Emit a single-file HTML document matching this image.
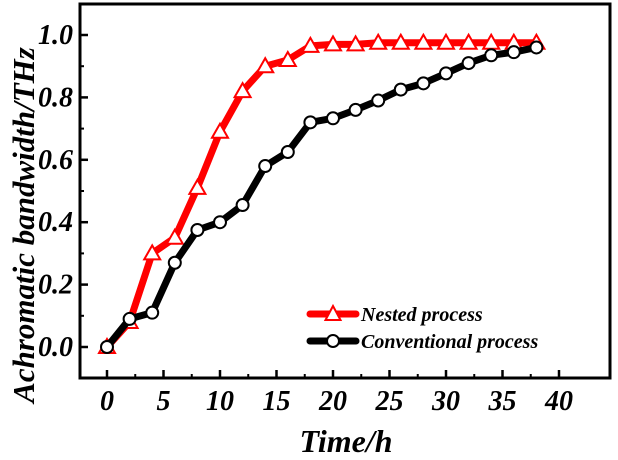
<!DOCTYPE html>
<html><head><meta charset="utf-8"><style>
html,body{margin:0;padding:0;background:#fff;}
svg{display:block;}
text{font-family:"Liberation Serif",serif;font-weight:bold;font-style:italic;fill:#000;}
</style></head><body>
<svg id="chart" width="618" height="460">
<rect x="80" y="4" width="530" height="374" fill="none" stroke="#000" stroke-width="3"/>
<g id="axes"></g>
<g id="series"></g>
<text x="346" y="452" font-size="32" text-anchor="middle">Time/h</text>
<text transform="translate(34,225) rotate(-90)" font-size="31" text-anchor="middle">Achromatic bandwidth/THz</text>
<g>
<g>
<line x1="310" y1="314" x2="356" y2="314" stroke="#f00" stroke-width="7" stroke-linecap="round"/>
<polygon points="333,306 325.5,320 340.5,320" fill="#fff" stroke="#f00" stroke-width="2"/>
<text x="361" y="321" font-size="20">Nested process</text>
</g>
<g>
<line x1="310" y1="341" x2="356" y2="341" stroke="#000" stroke-width="7" stroke-linecap="round"/>
<circle cx="333" cy="341" r="6" fill="#fff" stroke="#000" stroke-width="2"/>
<text x="361" y="348" font-size="20">Conventional process</text>
</g>
</g>
</svg>
<script>
const times = [0,2,4,6,8,10,12,14,16,18,20,22,24,26,28,30,32,34,36,38];
const nested = [0,0.08,0.30,0.35,0.51,0.69,0.82,0.90,0.92,0.965,0.97,0.97,0.975,0.975,0.975,0.975,0.975,0.975,0.975,0.975];
const conventional = [0,0.09,0.11,0.27,0.375,0.40,0.455,0.58,0.625,0.72,0.733,0.76,0.79,0.825,0.845,0.877,0.91,0.935,0.945,0.96];
const xTicks = [0,5,10,15,20,25,30,35,40];
const yTicks = [0.0,0.2,0.4,0.6,0.8,1.0];

const NS='http://www.w3.org/2000/svg';
function xs(v){return 107+v*(559-107)/40;}
function ys(v){return 347-v*312;}
function mk(tag,attrs,parent){const e=document.createElementNS(NS,tag);for(const k in attrs)e.setAttribute(k,attrs[k]);parent.appendChild(e);return e;}
const axes=document.getElementById('axes');
xTicks.forEach((t,i)=>{
  const x=xs(t);
  const tk=mk('line',{x1:x,y1:378,x2:x,y2:370,stroke:'#000','stroke-width':2.5},axes);
  
  
  if(i<xTicks.length-1){const m=mk('line',{x1:xs(t+2.5),y1:378,x2:xs(t+2.5),y2:374,stroke:'#000','stroke-width':2},axes);
    
    }
  const lb=mk('text',{x:x,y:410,'font-size':28,'text-anchor':'middle'},axes);
  lb.textContent=String(t);
  
  
});
yTicks.forEach((t,i)=>{
  const y=ys(t);
  const tk=mk('line',{x1:80,y1:y,x2:88,y2:y,stroke:'#000','stroke-width':2.5},axes);
  
  
  const m=mk('line',{x1:80,y1:ys(t+0.1),x2:84,y2:ys(t+0.1),stroke:'#000','stroke-width':2},axes);
  
  
  if(i===0){const m2=mk('line',{x1:80,y1:ys(-0.1),x2:84,y2:ys(-0.1),stroke:'#000','stroke-width':2},axes);
    
    }
  const lb=mk('text',{x:73,y:y+9,'font-size':28,'text-anchor':'end'},axes);
  lb.textContent=t.toFixed(1);
  
  
});
const series=document.getElementById('series');
function drawSeries(vals,color,kind,name){
  const g=mk('g',{},series);
  
  
  const pts=vals.map((v,i)=>xs(times[i])+','+ys(v)).join(' ');
  const pl=mk('polyline',{points:pts,fill:'none',stroke:color,'stroke-width':7,'stroke-linejoin':'round','stroke-linecap':'round'},g);
  
  
  vals.forEach((v,i)=>{
    const x=xs(times[i]),y=ys(v);
    let m;
    if(kind==='tri'){m=mk('polygon',{points:`${x},${y-8} ${x-8},${y+6} ${x+8},${y+6}`,fill:'#fff',stroke:color,'stroke-width':2},g);}
    else{m=mk('circle',{cx:x,cy:y,r:6,fill:'#fff',stroke:color,'stroke-width':2},g);}
    
    
  });
}
drawSeries(nested,'#f00','tri','nested');
drawSeries(conventional,'#000','circ','conventional');
</script>
</body></html>
